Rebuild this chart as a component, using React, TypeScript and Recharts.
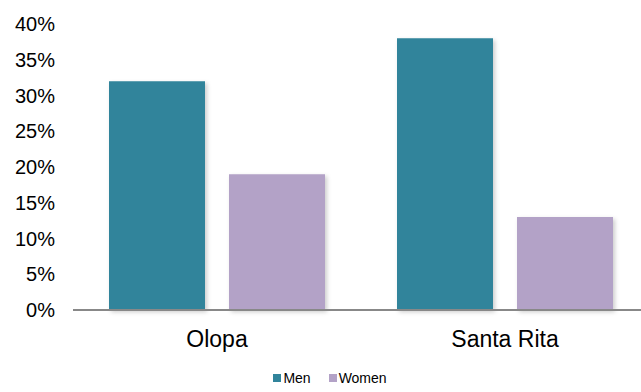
import React from 'react';
import { BarChart, Bar, XAxis, YAxis } from 'recharts';

const sites = ['Olopa', 'Santa Rita'];
const menValues = [32, 38];
const womenValues = [19, 13];
const yTicks = [0, 5, 10, 15, 20, 25, 30, 35, 40];

const series = [
  { key: 'men', name: 'Men', color: '#31849B', values: menValues },
  { key: 'women', name: 'Women', color: '#B3A2C7', values: womenValues },
];

const data = sites.map((site, i) => ({
  site,
  men: menValues[i],
  women: womenValues[i],
}));

const font = '"Liberation Sans", Arial, sans-serif';

export default function App() {
  return (
    <div
      style={{
        position: 'absolute',
        left: 0,
        top: 0,
        width: 641,
        height: 392,
        overflow: 'hidden',
        background: '#fff',
        fontFamily: font,
      }}
    >
      {/* plot runs past the right edge, like the original crop */}
      <BarChart
        width={649}
        height={392}
        data={data}
        margin={{ top: 24, right: 0, bottom: 37, left: 0 }}
        barCategoryGap={36}
        barGap={24}
      >
        <XAxis
          dataKey="site"
          height={45}
          tickLine={false}
          tickSize={0}
          tickMargin={21}
          axisLine={{ stroke: '#888888', strokeWidth: 2 }}
          tick={{ fontSize: 23, fill: '#000', fontFamily: font }}
        />
        <YAxis
          width={73}
          domain={[0, 40]}
          ticks={yTicks}
          interval={0}
          axisLine={false}
          tickLine={false}
          tickSize={0}
          tickMargin={18}
          tickFormatter={(v: number) => `${v}%`}
          tick={{ fontSize: 20, fill: '#000', fontFamily: font }}
        />
        {series.map((s) => (
          <Bar
            key={s.key}
            dataKey={s.key}
            name={s.name}
            fill={s.color}
            barSize={96}
            isAnimationActive={false}
            style={{ filter: 'drop-shadow(2px 2px 2px rgba(0,0,0,0.2))' }}
          />
        ))}
      </BarChart>
      <div
        style={{
          position: 'absolute',
          left: 0,
          width: 660,
          top: 370,
          display: 'flex',
          justifyContent: 'center',
          gap: 18,
          fontSize: 14,
          color: '#000',
        }}
      >
        {series.map((s) => (
          <span key={s.key} style={{ display: 'flex', alignItems: 'center', gap: 2 }}>
            <span style={{ width: 8, height: 8, background: s.color, display: 'inline-block' }} />
            {s.name}
          </span>
        ))}
      </div>
    </div>
  );
}
